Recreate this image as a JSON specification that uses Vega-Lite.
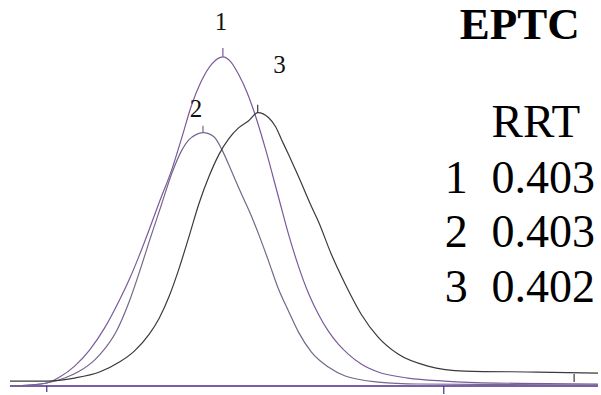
{
  "$schema": "https://vega.github.io/schema/vega-lite/v6.json",
  "autosize": {"type": "fit", "contains": "padding"},
  "width": 601,
  "height": 395,
  "padding": 0,
  "background": "white",
  "config": {"view": {"stroke": null}, "text": {"font": "Times New Roman, Liberation Serif, Tinos, DejaVu Serif, serif"}},
  "datasets": {
    "traces": [
      {"peak": "1", "t": 10, "signal": 0}, {"peak": "1", "t": 30, "signal": 1}, {"peak": "1", "t": 47, "signal": 3},
      {"peak": "1", "t": 60, "signal": 9}, {"peak": "1", "t": 75, "signal": 20}, {"peak": "1", "t": 90, "signal": 36},
      {"peak": "1", "t": 105, "signal": 58}, {"peak": "1", "t": 120, "signal": 86}, {"peak": "1", "t": 130, "signal": 107},
      {"peak": "1", "t": 140, "signal": 131}, {"peak": "1", "t": 150, "signal": 157}, {"peak": "1", "t": 160, "signal": 184},
      {"peak": "1", "t": 173, "signal": 218}, {"peak": "1", "t": 183, "signal": 250}, {"peak": "1", "t": 192, "signal": 280},
      {"peak": "1", "t": 202, "signal": 305}, {"peak": "1", "t": 213, "signal": 323}, {"peak": "1", "t": 224, "signal": 330},
      {"peak": "1", "t": 232, "signal": 325}, {"peak": "1", "t": 240, "signal": 312}, {"peak": "1", "t": 248, "signal": 295},
      {"peak": "1", "t": 258, "signal": 267}, {"peak": "1", "t": 267, "signal": 237}, {"peak": "1", "t": 280, "signal": 189},
      {"peak": "1", "t": 290, "signal": 152}, {"peak": "1", "t": 300, "signal": 120}, {"peak": "1", "t": 310, "signal": 93},
      {"peak": "1", "t": 320, "signal": 72}, {"peak": "1", "t": 330, "signal": 55}, {"peak": "1", "t": 340, "signal": 42},
      {"peak": "1", "t": 350, "signal": 32}, {"peak": "1", "t": 363, "signal": 22}, {"peak": "1", "t": 380, "signal": 14},
      {"peak": "1", "t": 410, "signal": 8}, {"peak": "1", "t": 447, "signal": 5}, {"peak": "1", "t": 500, "signal": 3},
      {"peak": "1", "t": 601, "signal": 2},

      {"peak": "2", "t": 10, "signal": 0}, {"peak": "2", "t": 30, "signal": 1}, {"peak": "2", "t": 47, "signal": 3},
      {"peak": "2", "t": 65, "signal": 8}, {"peak": "2", "t": 80, "signal": 15}, {"peak": "2", "t": 95, "signal": 26},
      {"peak": "2", "t": 105, "signal": 37}, {"peak": "2", "t": 117, "signal": 55}, {"peak": "2", "t": 130, "signal": 85},
      {"peak": "2", "t": 142, "signal": 120}, {"peak": "2", "t": 150, "signal": 145}, {"peak": "2", "t": 162, "signal": 181},
      {"peak": "2", "t": 173, "signal": 214}, {"peak": "2", "t": 182, "signal": 235}, {"peak": "2", "t": 190, "signal": 247},
      {"peak": "2", "t": 197, "signal": 252}, {"peak": "2", "t": 204, "signal": 254}, {"peak": "2", "t": 215, "signal": 250},
      {"peak": "2", "t": 223, "signal": 237}, {"peak": "2", "t": 232, "signal": 217}, {"peak": "2", "t": 242, "signal": 194},
      {"peak": "2", "t": 252, "signal": 172}, {"peak": "2", "t": 260, "signal": 152}, {"peak": "2", "t": 270, "signal": 125},
      {"peak": "2", "t": 280, "signal": 97}, {"peak": "2", "t": 290, "signal": 75}, {"peak": "2", "t": 300, "signal": 54},
      {"peak": "2", "t": 313, "signal": 34}, {"peak": "2", "t": 330, "signal": 19}, {"peak": "2", "t": 347, "signal": 10},
      {"peak": "2", "t": 380, "signal": 4}, {"peak": "2", "t": 420, "signal": 2}, {"peak": "2", "t": 601, "signal": 1},

      {"peak": "3", "t": 10, "signal": 5}, {"peak": "3", "t": 47, "signal": 5}, {"peak": "3", "t": 75, "signal": 8},
      {"peak": "3", "t": 100, "signal": 14}, {"peak": "3", "t": 120, "signal": 24}, {"peak": "3", "t": 135, "signal": 35},
      {"peak": "3", "t": 150, "signal": 52}, {"peak": "3", "t": 160, "signal": 68}, {"peak": "3", "t": 170, "signal": 90},
      {"peak": "3", "t": 180, "signal": 118}, {"peak": "3", "t": 190, "signal": 150}, {"peak": "3", "t": 200, "signal": 183},
      {"peak": "3", "t": 210, "signal": 210}, {"peak": "3", "t": 220, "signal": 232}, {"peak": "3", "t": 230, "signal": 248},
      {"peak": "3", "t": 240, "signal": 259}, {"peak": "3", "t": 250, "signal": 266}, {"peak": "3", "t": 259, "signal": 274},
      {"peak": "3", "t": 270, "signal": 269}, {"peak": "3", "t": 277, "signal": 260}, {"peak": "3", "t": 283, "signal": 247},
      {"peak": "3", "t": 290, "signal": 232}, {"peak": "3", "t": 300, "signal": 210}, {"peak": "3", "t": 313, "signal": 180},
      {"peak": "3", "t": 320, "signal": 165}, {"peak": "3", "t": 333, "signal": 132}, {"peak": "3", "t": 347, "signal": 102},
      {"peak": "3", "t": 363, "signal": 72}, {"peak": "3", "t": 380, "signal": 49}, {"peak": "3", "t": 400, "signal": 32},
      {"peak": "3", "t": 430, "signal": 20}, {"peak": "3", "t": 467, "signal": 15}, {"peak": "3", "t": 540, "signal": 14},
      {"peak": "3", "t": 601, "signal": 13}
    ],
    "apexMarks": [
      {"peak": "1", "t": 224, "lo": 330, "hi": 339},
      {"peak": "2", "t": 204, "lo": 254, "hi": 261},
      {"peak": "3", "t": 259, "lo": 274, "hi": 282}
    ],
    "integrationMarks": [
      {"peak": "base", "t": 47, "lo": -6, "hi": 0},
      {"peak": "base", "t": 446, "lo": -8, "hi": 0},
      {"peak": "3", "t": 577, "lo": 4, "hi": 12}
    ],
    "peakLabels": [
      {"label": "1", "t": 222, "signal": 357},
      {"label": "2", "t": 197, "signal": 270},
      {"label": "3", "t": 281, "signal": 314}
    ],
    "rrtTable": [
      {"no": "1", "rrt": "0.403", "signal": 194},
      {"no": "2", "rrt": "0.403", "signal": 139},
      {"no": "3", "rrt": "0.402", "signal": 84}
    ]
  },
  "layer": [
    {
      "data": {"values": [{"t0": 10, "t1": 601, "signal": 0}]},
      "mark": {"type": "rule", "color": "#4b2a8c", "strokeWidth": 1.6},
      "encoding": {
        "x": {"field": "t0", "type": "quantitative", "scale": {"domain": [0, 601], "nice": false, "zero": false}, "axis": null},
        "x2": {"field": "t1"},
        "y": {"field": "signal", "type": "quantitative", "scale": {"domain": [-8, 387], "nice": false, "zero": false}, "axis": null}
      }
    },
    {
      "data": {"name": "traces"},
      "mark": {"type": "line", "strokeWidth": 1.2, "interpolate": "monotone"},
      "encoding": {
        "x": {"field": "t", "type": "quantitative"},
        "y": {"field": "signal", "type": "quantitative"},
        "detail": {"field": "peak"},
        "color": {
          "field": "peak", "type": "nominal", "legend": null,
          "scale": {"domain": ["1", "2", "3", "base"], "range": ["#7b5a9c", "#76668a", "#3a3a3a", "#4b2a8c"]}
        }
      }
    },
    {
      "data": {"name": "apexMarks"},
      "mark": {"type": "rule", "strokeWidth": 1.2},
      "encoding": {
        "x": {"field": "t", "type": "quantitative"},
        "y": {"field": "lo", "type": "quantitative"},
        "y2": {"field": "hi"},
        "color": {"field": "peak", "type": "nominal", "legend": null}
      }
    },
    {
      "data": {"name": "integrationMarks"},
      "mark": {"type": "rule", "strokeWidth": 1.2},
      "encoding": {
        "x": {"field": "t", "type": "quantitative"},
        "y": {"field": "lo", "type": "quantitative"},
        "y2": {"field": "hi"},
        "color": {"field": "peak", "type": "nominal", "legend": null}
      }
    },
    {
      "data": {"name": "peakLabels"},
      "mark": {"type": "text", "fontSize": 25, "align": "center", "baseline": "alphabetic", "color": "#111"},
      "encoding": {
        "x": {"field": "t", "type": "quantitative"},
        "y": {"field": "signal", "type": "quantitative"},
        "text": {"field": "label"}
      }
    },
    {
      "data": {"values": [{"text": "EPTC", "t": 462, "signal": 348}]},
      "mark": {"type": "text", "fontSize": 45, "fontWeight": "bold", "align": "left", "baseline": "alphabetic", "color": "#000"},
      "encoding": {
        "x": {"field": "t", "type": "quantitative"},
        "y": {"field": "signal", "type": "quantitative"},
        "text": {"field": "text"}
      }
    },
    {
      "data": {"values": [{"text": "RRT", "t": 494, "signal": 250}]},
      "mark": {"type": "text", "fontSize": 47, "align": "left", "baseline": "alphabetic", "color": "#000"},
      "encoding": {
        "x": {"field": "t", "type": "quantitative"},
        "y": {"field": "signal", "type": "quantitative"},
        "text": {"field": "text"}
      }
    },
    {
      "data": {"name": "rrtTable"},
      "mark": {"type": "text", "fontSize": 46, "align": "left", "baseline": "alphabetic", "color": "#000"},
      "encoding": {
        "x": {"datum": 447, "type": "quantitative"},
        "y": {"field": "signal", "type": "quantitative"},
        "text": {"field": "no"}
      }
    },
    {
      "data": {"name": "rrtTable"},
      "mark": {"type": "text", "fontSize": 46, "align": "left", "baseline": "alphabetic", "color": "#000"},
      "encoding": {
        "x": {"datum": 494, "type": "quantitative"},
        "y": {"field": "signal", "type": "quantitative"},
        "text": {"field": "rrt"}
      }
    }
  ]
}
